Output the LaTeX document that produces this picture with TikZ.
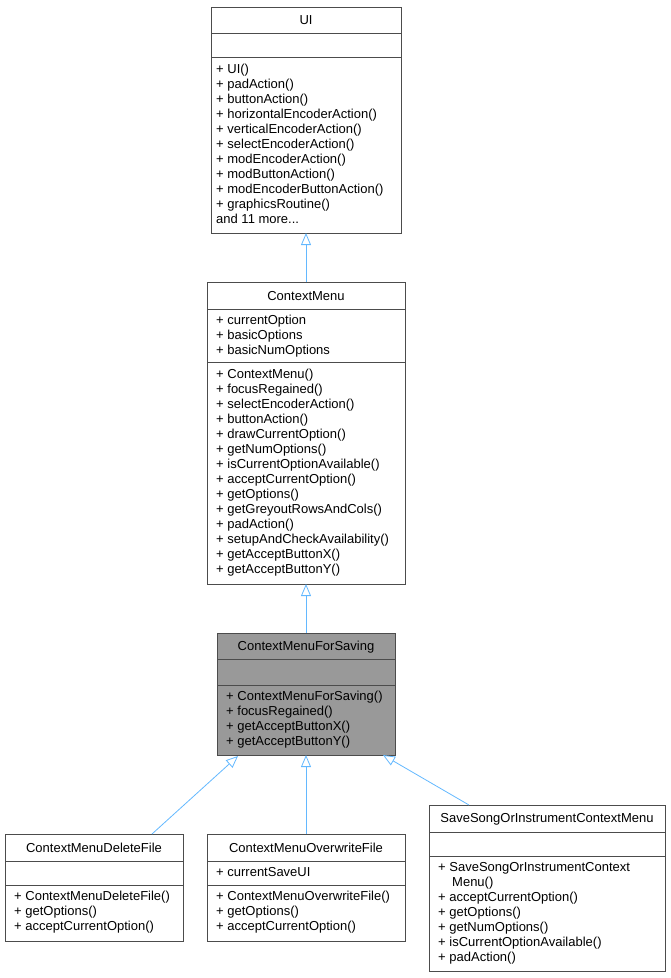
\documentclass[tikz,border=0pt]{standalone}
\usepackage{fontspec}
\setmainfont{Liberation Sans}
\usetikzlibrary{arrows.meta,calc}
\definecolor{edge}{HTML}{63B8FF}
\begin{document}
\begin{tikzpicture}[x=1pt,y=-1pt,
  box/.style={draw=black!70,line width=0.8pt,inner sep=0pt},
  ttl/.style={font=\fontsize{13}{15}\selectfont},
  txt/.style={font=\fontsize{13}{15}\selectfont,align=left,anchor=north west,inner sep=0pt},
  arr/.style={draw=edge,line width=0.8pt,-{Triangle[open,length=12pt,width=10pt]}}]
\useasboundingbox (0,0) rectangle (670,978);
\newcommand{\cmp}[5]{\path[box,#5] (#1,#2) rectangle (#3,#4);}
% UI
\cmp{211}{7}{401}{33}{}\node[ttl] (ui) at (306,20) {UI};
\cmp{211}{33}{401}{57}{}
\cmp{211}{57}{401}{233}{}
\node[txt] (uim) at (216,64) {+ UI()\\+ padAction()\\+ buttonAction()\\+ horizontalEncoderAction()\\+ verticalEncoderAction()\\+ selectEncoderAction()\\+ modEncoderAction()\\+ modButtonAction()\\+ modEncoderButtonAction()\\+ graphicsRoutine()\\and 11 more...};
\coordinate (uib) at (306,233);
% ContextMenu
\cmp{207}{282}{405}{309}{}\node[ttl] (cm) at (306,296) {ContextMenu};
\coordinate (cmt) at (306,282);
\cmp{207}{309}{405}{362}{}
\node[txt] (cma) at (216,315) {+ currentOption\\+ basicOptions\\+ basicNumOptions};
\cmp{207}{362}{405}{584}{}
\node[txt] (cmm) at (216,369) {+ ContextMenu()\\+ focusRegained()\\+ selectEncoderAction()\\+ buttonAction()\\+ drawCurrentOption()\\+ getNumOptions()\\+ isCurrentOptionAvailable()\\+ acceptCurrentOption()\\+ getOptions()\\+ getGreyoutRowsAndCols()\\+ padAction()\\+ setupAndCheckAvailability()\\+ getAcceptButtonX()\\+ getAcceptButtonY()};
\coordinate (cmb) at (306,584);
% ContextMenuForSaving
\cmp{217}{633}{395}{659}{fill=black!40}\node[ttl] (cfs) at (306,647) {ContextMenuForSaving};
\coordinate (cfst) at (306,633);
\cmp{217}{659}{395}{685}{fill=black!40}
\cmp{217}{685}{395}{755}{fill=black!40}
\node[txt] (cfsm) at (226,691) {+ ContextMenuForSaving()\\+ focusRegained()\\+ getAcceptButtonX()\\+ getAcceptButtonY()};
\coordinate (cfsb) at (306,755);
\coordinate (cfsl) at (238,756);
\coordinate (cfsr) at (383,755);
% Delete
\cmp{5}{834}{183}{861}{}\node[ttl] (del) at (94,848) {ContextMenuDeleteFile};
\coordinate (delt) at (152,834);
\cmp{5}{861}{183}{885}{}
\cmp{5}{885}{183}{941}{}
\node[txt] (delm) at (14,891) {+ ContextMenuDeleteFile()\\+ getOptions()\\+ acceptCurrentOption()};
% Overwrite
\cmp{207}{834}{405}{861}{}\node[ttl] (ow) at (306,848) {ContextMenuOverwriteFile};
\coordinate (owt) at (306,834);
\cmp{207}{861}{405}{885}{}
\node[txt] (owa) at (216,867) {+ currentSaveUI};
\cmp{207}{885}{405}{941}{}
\node[txt] (owm) at (216,891) {+ ContextMenuOverwriteFile()\\+ getOptions()\\+ acceptCurrentOption()};
% SaveSong
\cmp{429}{805}{665}{832}{}\node[ttl] (ss) at (547,819) {SaveSongOrInstrumentContextMenu};
\coordinate (sst) at (469,805);
\cmp{429}{832}{665}{856}{}
\cmp{429}{856}{665}{971}{}
\node[txt] (ssm) at (438,862) {+ SaveSongOrInstrumentContext\\\hspace*{14pt}Menu()\\+ acceptCurrentOption()\\+ getOptions()\\+ getNumOptions()\\+ isCurrentOptionAvailable()\\+ padAction()};
% edges
\draw[arr] (cmt) -- (uib);
\draw[arr] (cfst) -- (cmb);
\draw[arr] (delt) -- (cfsl);
\draw[arr] (owt) -- (cfsb);
\draw[arr] (sst) -- (cfsr);
\end{tikzpicture}
\end{document}
